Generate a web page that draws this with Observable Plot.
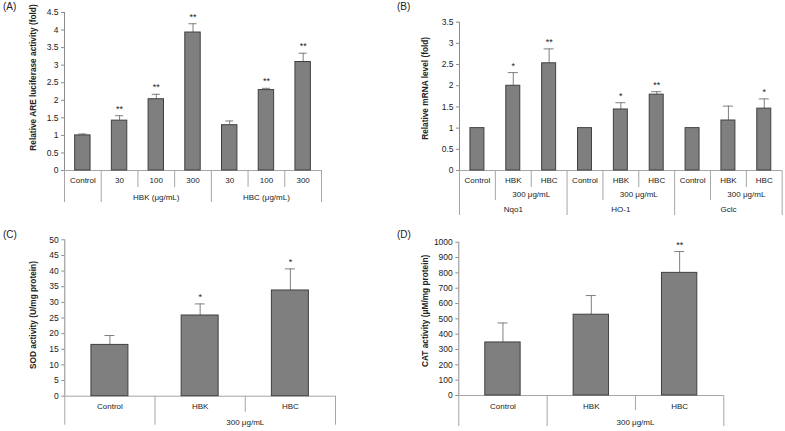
<!DOCTYPE html>
<html><head><meta charset="utf-8">
<script src="https://cdn.jsdelivr.net/npm/d3@7"></script>
<script src="https://cdn.jsdelivr.net/npm/@observablehq/plot@0.6"></script>
<style>
body{margin:0;background:#fff;}
#root{position:relative;width:785px;height:431px;overflow:hidden;font-family:"Liberation Sans",Arial,sans-serif;}
.panel{position:absolute;}
.plabel{position:absolute;font-size:10px;color:#222;line-height:1;}
</style></head><body><div id="root"></div>
<script>
// ---- Panel A: ARE luciferase activity ----
const catsA = ["Control","30","100","300","30","100","300"];
const valuesA = [1.0,1.42,2.03,3.93,1.29,2.29,3.09];
const errTopA = [1.04,1.56,2.17,4.18,1.41,2.34,3.34];
const sigA = ["","**","**","**","","**","**"];
const groupsA = [{label:"HBK (μg/mL)",from:1,to:3},{label:"HBC (μg/mL)",from:4,to:6}];
const ticksA = [0,0.5,1,1.5,2,2.5,3,3.5,4,4.5];
const titleA = "Relative ARE luciferase activity (fold)";

// ---- Panel B: mRNA levels ----
const catsB = ["Control","HBK","HBC","Control","HBK","HBC","Control","HBK","HBC"];
const valuesB = [1.0,2.0,2.53,1.0,1.44,1.79,1.0,1.18,1.46];
const errTopB = [1.0,2.31,2.87,1.0,1.60,1.86,1.0,1.52,1.69];
const sigB = ["","*","**","","*","**","","","*"];
const doseB = [{label:"300 μg/mL",from:1,to:2},{label:"300 μg/mL",from:4,to:5},{label:"300 μg/mL",from:7,to:8}];
const genesB = [{label:"Nqo1",from:0,to:2},{label:"HO-1",from:3,to:5},{label:"Gclc",from:6,to:8}];
const ticksB = [0,0.5,1,1.5,2,2.5,3,3.5];
const titleB = "Relative mRNA level (fold)";

// ---- Panel C: SOD activity ----
const catsC = ["Control","HBK","HBC"];
const valuesC = [16.4,25.8,33.8];
const errTopC = [19.4,29.5,40.7];
const sigC = ["","*","*"];
const doseC = [{label:"300 μg/mL",from:1,to:2}];
const ticksC = [0,5,10,15,20,25,30,35,40,45,50];
const titleC = "SOD activity (U/mg protein)";

// ---- Panel D: CAT activity ----
const catsD = ["Control","HBK","HBC"];
const valuesD = [346,527,800];
const errTopD = [473,652,939];
const sigD = ["","","**"];
const doseD = [{label:"300 μg/mL",from:1,to:2}];
const ticksD = [0,100,200,300,400,500,600,700,800,900,1000];
const titleD = "CAT activity (μM/mg protein)";

function makePanel(o) {
  const n = o.cats.length;
  const innerH = o.height - o.mt - o.mb;
  const k = o.yMax / innerH;
  const bars = o.cats.map((c,i)=>({i, v:o.values[i], top:o.tops[i], sig:o.sig[i]}));
  const withErr = bars.filter(d=>d.top>d.v);
  const hw = o.barFrac/2;
  const seps = o.seps.map(([b,depth])=>({b,depth}));
  const rowMarks = [];
  rowMarks.push(Plot.text(o.cats.map((c,i)=>({label:c,pos:i})), {x:"pos", y:0, text:"label", dy:o.rowDy[0], lineAnchor:"middle", fontSize:8, fill:"#222"}));
  o.spans.forEach((level,li)=>{
    rowMarks.push(Plot.text(level.map(s=>({label:s.label,pos:(s.from+s.to)/2})), {x:"pos", y:0, text:"label", dy:o.rowDy[li+1], lineAnchor:"middle", fontSize:8, fill:"#222"}));
  });
  return Plot.plot({
    width:o.width, height:o.height,
    marginLeft:o.ml, marginRight:o.mr, marginTop:o.mt, marginBottom:o.mb,
    x:{domain:[-0.5,n-0.5], axis:null},
    y:{domain:[0,o.yMax]},
    style:{fontFamily:'"Liberation Sans", Arial, sans-serif', fontSize:"8.5px", color:"#222", background:"transparent", overflow:"visible"},
    marks:[
      Plot.ruleX(seps, {x:d=>d.b-0.5, y1:0, y2:d=>-d.depth*k, stroke:"#a6a6a6"}),
      Plot.ruleY([0], {x1:-0.5, x2:n-0.5, stroke:"#a6a6a6"}),
      Plot.ruleX([-0.5], {y1:0, y2:o.yMax, stroke:"#8c8c8c"}),
      Plot.axisY({ticks:o.ticks, tickFormat:d=>String(d), tickSize:3, tickPadding:3, label:null, stroke:"#8c8c8c", fill:"#222", fontSize:8.5}),
      Plot.ruleX(withErr, {x:"i", y1:"v", y2:"top", stroke:"#7f7f7f"}),
      Plot.ruleY(withErr, {y:"top", x1:d=>d.i-o.cap, x2:d=>d.i+o.cap, stroke:"#7f7f7f"}),
      Plot.rectY(bars, {x1:d=>d.i-hw, x2:d=>d.i+hw, y1:0, y2:"v", fill:"#7f7f7f", stroke:"#404040"}),
      Plot.text(bars.filter(d=>d.sig), {x:"i", y:"top", text:"sig", dy:-4, lineAnchor:"bottom", fontSize:9, fill:"#222"}),
      ...rowMarks,
      Plot.text([o.title], {text:d=>d, frameAnchor:"left", rotate:-90, textAnchor:"middle", lineAnchor:"middle", dx:o.tdx, dy:o.tdy, fontWeight:"bold", fontSize:8.3, fill:"#222"})
    ]
  });
}

const root = document.getElementById("root");
function place(plot, left, top) {
  const d = document.createElement("div");
  d.className = "panel"; d.style.left = left+"px"; d.style.top = top+"px";
  d.appendChild(plot); root.appendChild(d);
}
function label(t, left, top) {
  const d = document.createElement("div");
  d.className = "plabel"; d.textContent = t; d.style.left = left+"px"; d.style.top = top+"px";
  root.appendChild(d);
}

place(makePanel({cats:catsA, values:valuesA, tops:errTopA, sig:sigA, spans:[groupsA], rowDy:[10,27],
  seps:[[0,32],[1,32],[2,17],[3,17],[4,32],[5,17],[6,17],[7,32]],
  ticks:ticksA, yMax:4.5, title:titleA, tdx:-31, tdy:-14,
  width:392, height:215, ml:64, mr:71, mt:12, mb:45, barFrac:0.42, cap:0.11}), 0, 0);

place(makePanel({cats:catsB, values:valuesB, tops:errTopB, sig:sigB, spans:[doseB, genesB], rowDy:[10,23.5,39],
  seps:[[0,45],[1,30],[2,17],[3,45],[4,30],[5,17],[6,45],[7,30],[8,17],[9,45]],
  ticks:ticksB, yMax:3.5, title:titleB, tdx:-34, tdy:-8,
  width:385, height:218, ml:59, mr:3.3, mt:21.7, mb:48, barFrac:0.39, cap:0.14}), 400, 0);

place(makePanel({cats:catsC, values:valuesC, tops:errTopC, sig:sigC, spans:[doseC], rowDy:[10,26],
  seps:[[0,29],[1,29],[2,16],[3,29]],
  ticks:ticksC, yMax:50, title:titleC, tdx:-31, tdy:-3,
  width:392, height:216, ml:64.3, mr:57, mt:24.3, mb:35.3, barFrac:0.41, cap:0.055}), 0, 215);

place(makePanel({cats:catsD, values:valuesD, tops:errTopD, sig:sigD, spans:[doseD], rowDy:[11,26.7],
  seps:[[0,31],[1,31],[2,15],[3,31]],
  ticks:ticksD, yMax:1000, title:titleD, tdx:-33, tdy:-8,
  width:385, height:216, ml:58.3, mr:61.7, mt:26.7, mb:36, barFrac:0.40, cap:0.057}), 400, 215);

label("(A)", 3, 2);
label("(B)", 397, 2);
label("(C)", 3, 230);
label("(D)", 397, 230);
</script></body></html>
